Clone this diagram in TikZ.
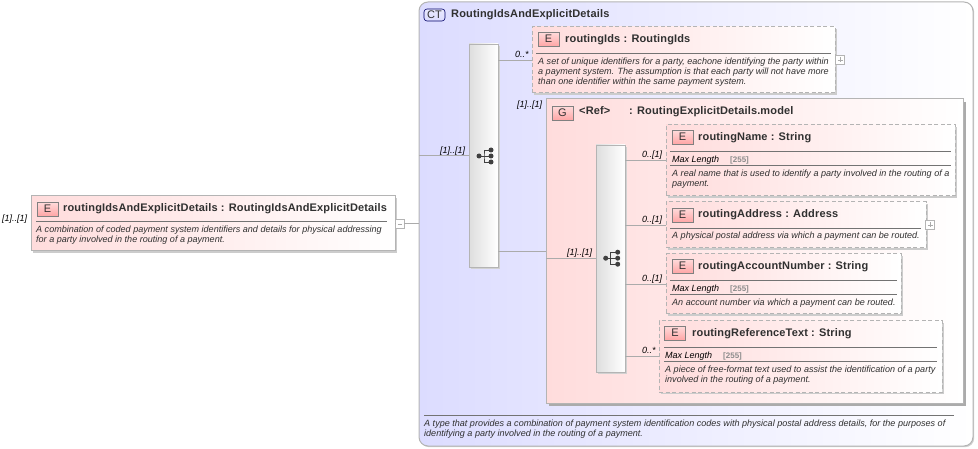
\documentclass[tikz,border=0pt]{standalone}
\usepackage{fontspec}
\setmainfont{Liberation Sans}
\newfontfamily\titlefont[LetterSpace=1.4]{Liberation Sans}
\usetikzlibrary{shadows}
\definecolor{bordergray}{HTML}{B4B4B4}
\definecolor{linegray}{HTML}{ABABAB}
\definecolor{pinkfill}{HTML}{FFDCDC}
\definecolor{pinkmid}{HTML}{FFE8E8}
\definecolor{bluefill}{HTML}{DCDCFF}
\definecolor{bluemid}{HTML}{E6E6FF}
\definecolor{inkdark}{HTML}{303030}
\tikzset{
  x=1pt,y=-1pt,
  boxshadow/.style={drop shadow={shadow xshift=2pt,shadow yshift=-2pt,fill=black!20,opacity=1}},
  area/.style={anchor=north west,inner sep=0pt,outer sep=0pt},
  elemreq/.style={area,draw=bordergray,line width=1pt,left color=pinkfill,middle color=pinkmid,right color=white,boxshadow},
  elemopt/.style={elemreq,dash pattern=on 4pt off 2.5pt},
  ctbox/.style={area,draw=bordergray,line width=1pt,left color=bluefill,middle color=bluemid,right color=white,rounded corners=9pt,drop shadow={shadow xshift=1.2pt,shadow yshift=-1.2pt,fill=black!18,opacity=1}},
  grpbox/.style={area,draw=bordergray,line width=1pt,left color=pinkfill,middle color=pinkmid,right color=white,drop shadow={shadow xshift=3pt,shadow yshift=-3pt,fill=black!33,opacity=1}},
  seqbox/.style={area,draw=bordergray,line width=.9pt,left color=black!13,right color=white,drop shadow={shadow xshift=2pt,shadow yshift=-2pt,fill=black!18,opacity=1}},
  badge/.style={area,draw=black!50,line width=.6pt,top color=pinkfill,bottom color=red!35,minimum width=21pt,minimum height=14pt,font=\fontsize{11}{11}\selectfont,text=inkdark},
  ctbadge/.style={badge,rounded corners=3pt,draw=black!60!blue,top color=bluefill!60,bottom color=bluefill,minimum height=12pt},
  titletext/.style={anchor=base west,inner sep=0pt,yshift=-.7pt,font=\fontsize{11}{11}\titlefont\bfseries,text=inkdark},
  desctext/.style={anchor=base west,inner sep=0pt,yshift=-.7pt,font=\fontsize{9.05}{9}\selectfont\itshape,text=inkdark},
  maxtext/.style={anchor=base west,inner sep=0pt,yshift=-.7pt,font=\fontsize{9}{9}\selectfont\itshape,text=black},
  valtext/.style={anchor=base west,inner sep=0pt,yshift=-.7pt,font=\fontsize{8}{8}\selectfont\bfseries,text=black!45},
  occ/.style={anchor=base west,inner sep=0pt,yshift=-.7pt,font=\fontsize{9}{9}\selectfont\itshape,text=black},
  conn/.style={draw=linegray,line width=.8pt},
  rule/.style={draw=black!55,line width=.6pt},
  toggle/.style={area,draw=bordergray,line width=.7pt,fill=white,minimum width=8.5pt,minimum height=8.5pt},
  treeicon/.style={draw=black!75,line width=.9pt},
  treedot/.style={circle,fill=black!75,inner sep=0pt,minimum size=5pt},
}
\begin{document}
\begin{tikzpicture}
\useasboundingbox (0,0) rectangle (978,449);
% containers
\node[ctbox,minimum width=554pt,minimum height=444pt] (ct) at (419,2) {};
\node[elemreq,minimum width=364pt,minimum height=55pt] (main) at (31,196) {};
\node[toggle] (mainToggle) at (395.5,219.5) {};
\node[seqbox,minimum width=29pt,minimum height=223pt] (seqA) at (469,44) {};
\node[elemopt,minimum width=303pt,minimum height=66pt] (rid) at (532,27) {};
\node[toggle] (ridToggle) at (835.5,55.5) {};
\node[grpbox,minimum width=417pt,minimum height=304pt] (grp) at (546,99) {};
\node[seqbox,minimum width=29pt,minimum height=227pt] (seqB) at (596,145) {};
\node[elemopt,minimum width=289pt,minimum height=71pt] (rname) at (666,125) {};
\node[elemopt,minimum width=260pt,minimum height=46pt] (raddr) at (666,202) {};
\node[toggle] (addrToggle) at (925.5,220.5) {};
\node[elemopt,minimum width=235pt,minimum height=60pt] (racct) at (666,254) {};
\node[elemopt,minimum width=283pt,minimum height=71pt] (rref) at (659,321) {};
% connectors
\draw[conn] (mainToggle.east) -- (ct.west |- mainToggle.east);
\draw[conn] (mainToggle.west) -- (main.east |- mainToggle.west);
\draw[conn] (ct.west |- seqA.west) -- (seqA.west);
\draw[conn] (seqA.east |- rid.west) -- (rid.west);
\draw[conn] (seqA.east |- grp.west) -- (grp.west);
\draw[conn] (grp.west |- seqB.west) -- (seqB.west);
\draw[conn] (seqB.east |- rname.west) -- (rname.west);
\draw[conn] (seqB.east |- raddr.west) -- (raddr.west);
\draw[conn] (seqB.east |- racct.west) -- (racct.west);
\draw[conn] (seqB.east |- rref.west) -- (rref.west);
% toggles
\draw[linegray,line width=.6pt] (397.5,224) -- (402,224);
\draw[linegray,line width=.6pt] (837.5,60) -- (842.5,60) (840,57.5) -- (840,62.5);
\draw[linegray,line width=.6pt] (927.5,225) -- (932.5,225) (930,222.5) -- (930,227.5);
% tree icons
\foreach \ax/\ay/\nm in {479/156/a,605.7/258.2/b}{
  \node[treedot] (t\nm0) at (\ax,\ay) {};
  \node[treedot] (t\nm1) at (\ax+12,\ay-6) {};
  \node[treedot] (t\nm2) at (\ax+12,\ay) {};
  \node[treedot] (t\nm3) at (\ax+12,\ay+6) {};
  \draw[treeicon] (t\nm0.center) -- (t\nm2.center);
  \draw[treeicon] (t\nm1.center) -| ([xshift=5pt]t\nm0.center) |- (t\nm3.center);
}
% badges
\node[ctbadge] (bct) at (424,9) {CT};
\node[badge] (b0) at (37,202) {E};
\node[badge] (b1) at (538,32) {E};
\node[badge] (bg) at (552,106) {G};
\node[badge] (b2) at (672,130) {E};
\node[badge] (b3) at (672,208) {E};
\node[badge] (b4) at (672,259) {E};
\node[badge] (b5) at (664.5,326) {E};
% titles
\node[titletext] (tct) at (451,17) {RoutingIdsAndExplicitDetails};
\node[titletext] (t0) at (63,211) {routingIdsAndExplicitDetails : RoutingIdsAndExplicitDetails};
\node[titletext] (t1) at (565,42) {routingIds : RoutingIds};
\node[titletext] (tg1) at (579,114) {<Ref>};
\node[titletext] (tg2) at (629,114) {: RoutingExplicitDetails.model};
\node[titletext] (t2) at (698,140) {routingName : String};
\node[titletext] (t3) at (698,217) {routingAddress : Address};
\node[titletext] (t4) at (698,269) {routingAccountNumber : String};
\node[titletext] (t5) at (692,336) {routingReferenceText : String};
% rules
\draw[rule] (36,221) -- (387,221);
\draw[rule] (536,53) -- (831,53);
\draw[rule] (670,151) -- (951,151);
\draw[rule] (670,165) -- (951,165);
\draw[rule] (670,228) -- (921,228);
\draw[rule] (670,280) -- (897,280);
\draw[rule] (670,294) -- (897,294);
\draw[rule] (664,347) -- (937,347);
\draw[rule] (664,361) -- (937,361);
\draw[rule] (424,415) -- (954,415);
% descriptions
\node[desctext] (d01) at (36,232) {A combination of coded payment system identifiers and details for physical addressing};
\node[desctext] (d02) at (36,242) {for a party involved in the routing of a payment.};
\node[desctext] (d11) at (538,64) {A set of unique identifiers for a party, eachone identifying the party within};
\node[desctext] (d12) at (538,74) {a payment system. The assumption is that each party will not have more};
\node[desctext] (d13) at (538,84) {than one identifier within the same payment system.};
\node[maxtext] (m2) at (672,162) {Max Length};
\node[valtext] (v2) at (730,162) {[255]};
\node[desctext] (d21) at (672,176) {A real name that is used to identify a party involved in the routing of a};
\node[desctext] (d22) at (672,186) {payment.};
\node[desctext] (d31) at (672,238) {A physical postal address via which a payment can be routed.};
\node[maxtext] (m4) at (672,291) {Max Length};
\node[valtext] (v4) at (730,291) {[255]};
\node[desctext] (d41) at (672,305) {An account number via which a payment can be routed.};
\node[maxtext] (m5) at (665,358) {Max Length};
\node[valtext] (v5) at (723,358) {[255]};
\node[desctext] (d51) at (665,372) {A piece of free-format text used to assist the identification of a party};
\node[desctext] (d52) at (665,382) {involved in the routing of a payment.};
\node[desctext] (dc1) at (424,426) {A type that provides a combination of payment system identification codes with physical postal address details, for the purposes of};
\node[desctext] (dc2) at (424,436) {identifying a party involved in the routing of a payment.};
% occurrences
\node[occ] (o0) at (2,221) {[1]..[1]};
\node[occ] (o1) at (440,153) {[1]..[1]};
\node[occ] (o2) at (515,57) {0..*};
\node[occ] (o3) at (517,107) {[1]..[1]};
\node[occ] (o4) at (567,255) {[1]..[1]};
\node[occ] (o5) at (642,157) {0..[1]};
\node[occ] (o6) at (642,222) {0..[1]};
\node[occ] (o7) at (642,281) {0..[1]};
\node[occ] (o8) at (642,353) {0..*};
\end{tikzpicture}
\end{document}
